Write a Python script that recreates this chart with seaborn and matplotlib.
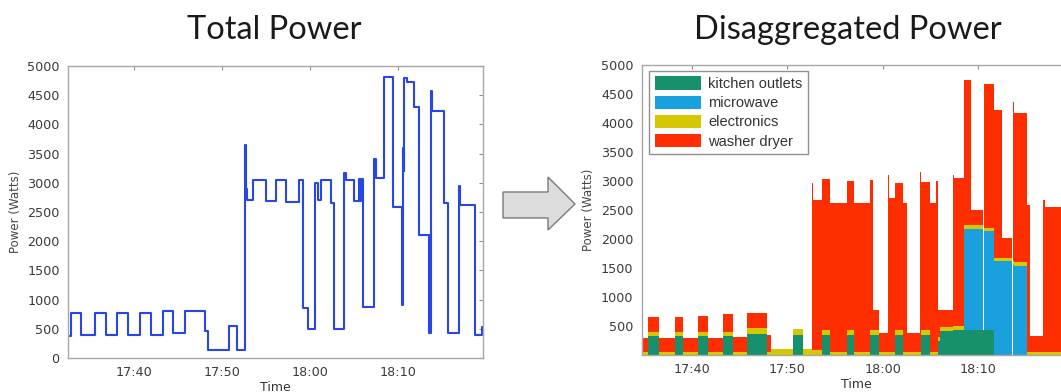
import numpy as np
import pandas as pd
import matplotlib
matplotlib.use('Agg')
from matplotlib import pyplot as plt
from matplotlib.patches import Polygon
import seaborn as sns

# ---- data (minutes after 17:00) ----
# total power, step values held from each time until the next
total_t = [32.50, 32.88, 34.02, 35.53, 36.78, 38.07, 39.32, 40.64, 41.97, 43.30,
           44.43, 45.76, 48.03, 48.41, 50.80, 51.70, 52.65, 52.72, 52.84, 53.52,
           55.04, 56.17, 57.31, 58.75, 59.20, 59.77, 60.64, 60.91, 61.29, 62.42,
           62.73, 63.94, 64.10, 65.08, 65.60, 65.75, 65.85, 66.02, 67.35, 67.50,
           68.48, 69.43, 70.49, 70.57, 70.70, 70.76, 71.00, 71.89, 72.46, 73.60,
           73.79, 73.95, 75.30, 75.68, 76.93, 77.05, 78.83, 79.55, 79.70]
total_w = [380, 770, 390, 770, 390, 770, 390, 770, 400, 800,
           420, 810, 470, 130, 540, 140, 3650, 2900, 2700, 3050,
           2680, 3040, 2670, 3050, 850, 490, 3000, 2700, 3050, 2650,
           490, 3170, 3050, 2680, 3060, 2680, 3060, 880, 3400, 3080,
           4810, 2580, 900, 3600, 3200, 4800, 4730, 4300, 2110, 420,
           4580, 4230, 2650, 420, 2950, 2620, 400, 530, 530]

# disaggregated power per appliance
dis_t = [34.77, 35.47, 36.58, 38.26, 39.13, 40.70, 41.74, 43.24, 44.36, 45.76,
         47.85, 48.27, 50.64, 51.62, 52.56, 52.70, 53.60, 54.47, 56.22, 56.99,
         58.66, 59.01, 59.64, 60.58, 60.70, 61.28, 62.15, 62.57, 63.89, 63.97,
         64.94, 65.57, 65.81, 65.95, 67.39, 67.50, 68.45, 69.20, 70.45, 70.55,
         71.60, 72.44, 73.52, 73.62, 73.75, 75.05, 75.40, 76.80, 76.95, 79.70]
kitchen = [0, 330, 0, 330, 0, 330, 0, 330, 0, 370,
           0, 0, 340, 0, 0, 0, 350, 0, 350, 0,
           350, 350, 0, 0, 0, 350, 0, 0, 0, 350,
           0, 0, 250, 420, 430, 430, 430, 430, 430, 430,
           0, 0, 0, 0, 0, 0, 0, 0, 0, 0]
microwave = [0, 0, 0, 0, 0, 0, 0, 0, 0, 0,
             0, 0, 0, 0, 0, 0, 0, 0, 0, 0,
             0, 0, 0, 0, 0, 0, 0, 0, 0, 0,
             0, 0, 0, 0, 0, 0, 1750, 1750, 0, 1700,
             1620, 1620, 0, 1560, 1540, 0, 0, 0, 0, 0]
electronics = [50, 70, 50, 70, 50, 70, 50, 70, 50, 90,
               60, 100, 110, 100, 90, 90, 80, 60, 80, 60,
               80, 80, 60, 60, 60, 80, 60, 60, 60, 80,
               60, 60, 60, 70, 70, 70, 60, 60, 0, 60,
               60, 60, 0, 60, 60, 50, 50, 50, 50, 50]
washer = [240, 260, 240, 260, 240, 280, 250, 300, 260, 270,
          280, 0, 0, 0, 2870, 2580, 2600, 2560, 2570, 2560,
          2580, 350, 320, 3040, 2640, 2540, 2560, 320, 3100, 2560,
          2560, 2940, 470, 290, 2600, 2550, 2500, 260, 0, 2490,
          2545, 330, 0, 2750, 2570, 2540, 270, 2620, 2510, 2510]

appliances = ['kitchen outlets', 'microwave', 'electronics', 'washer dryer']
colors = ['#17906c', '#1aa0dc', '#d6c800', '#ff2e00']

tick_pos = [40, 50, 60, 70]
tick_labels = ['17:40', '17:50', '18:00', '18:10']
y_left = list(range(0, 5001, 500))
y_right = list(range(500, 5001, 500))

sns.set_theme(style="white")
plt.rcParams['font.family'] = ['DejaVu Sans']

W, H = 1061, 392
fig = plt.figure(figsize=(W / 100, H / 100), dpi=100)


def style_axes(ax, yticks):
    ax.set_xticks(tick_pos)
    ax.set_xticklabels(tick_labels)
    ax.set_yticks(yticks)
    ax.tick_params(direction='in', length=3, width=0.8, color='#909090',
                   top=True, right=True, labelsize=9.2, labelcolor='#3a3a3a', pad=6)
    for s in ax.spines.values():
        s.set_color('#a8a8a8')
        s.set_linewidth(1.0)
    ax.set_ylabel('Power (Watts)', fontsize=8.5, color='#444444', labelpad=4)
    ax.set_xlabel('Time', fontsize=9, color='#333333', labelpad=1)


# ---- left: total power ----
ax1 = fig.add_axes([68 / W, 1 - 358 / H, 415 / W, 292 / H])
total_df = pd.DataFrame({'time': total_t, 'power': total_w})
sns.lineplot(data=total_df, x='time', y='power', ax=ax1, estimator=None, sort=False,
             drawstyle='steps-post', color='#2845e6', linewidth=1.5)
ax1.set_xlim(32.5, 79.7)
ax1.set_ylim(0, 5000)
style_axes(ax1, y_left)

# ---- right: disaggregated power ----
ax2 = fig.add_axes([641.7 / W, 1 - 355 / H, 429.3 / W, 290 / H])
ax2.stackplot(dis_t, kitchen, microwave, electronics, washer,
              colors=colors, labels=appliances, step='post', linewidth=0)
ax2.set_xlim(34.77, 79.7)
ax2.set_ylim(0, 5000)
style_axes(ax2, y_right)
leg = ax2.legend(loc='upper left', bbox_to_anchor=(0.018, 0.978),
                 prop={'family': 'Liberation Sans', 'size': 10.5},
                 handlelength=3.2, handleheight=1.0, labelspacing=0.32,
                 borderpad=0.35, handletextpad=0.5, fancybox=False, framealpha=1,
                 edgecolor='#909090', borderaxespad=0)
for t in leg.get_texts():
    t.set_color('#333333')

# ---- titles and arrow ----
fig.text(274 / W, 1 - 30 / H, 'Total Power', ha='center', va='center',
         fontsize=23.5, family=['Lato', 'DejaVu Sans'], color='#1a1a1a')
fig.text(848 / W, 1 - 30 / H, 'Disaggregated Power', ha='center', va='center',
         fontsize=23.5, family=['Lato', 'DejaVu Sans'], color='#1a1a1a')

arrow_px = [(503, 192), (548, 192), (548, 177), (575, 204), (548, 230), (548, 218), (503, 218)]
arrow = Polygon([(x / W, 1 - y / H) for x, y in arrow_px], closed=True,
                transform=fig.transFigure, facecolor='#dcdcdc', edgecolor='#7a7a7a',
                linewidth=1.0)
fig.patches.append(arrow)

fig.savefig('out.png', dpi=100)
